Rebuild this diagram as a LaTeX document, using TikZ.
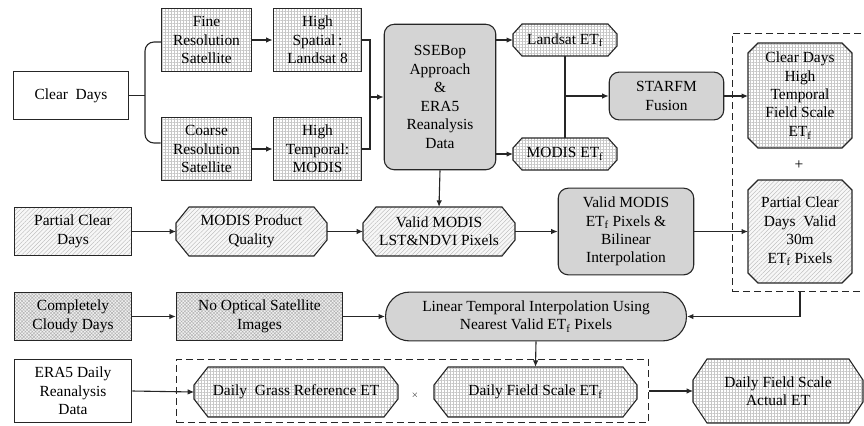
\documentclass[tikz,border=0pt]{standalone}
\usepackage{fontspec}
\setmainfont{Liberation Serif}
\usepackage{tikz}
\usetikzlibrary{arrows.meta,patterns.meta}

% octagon box: name, x, y, width, height, chamfer x, chamfer y, fill style, text
\newcommand{\octbox}[9]{%
  \path[octline,#8] ({#2-#4/2+#6},{#3-#5/2}) -- ({#2+#4/2-#6},{#3-#5/2}) -- ({#2+#4/2},{#3-#5/2+#7})
    -- ({#2+#4/2},{#3+#5/2-#7}) -- ({#2+#4/2-#6},{#3+#5/2}) -- ({#2-#4/2+#6},{#3+#5/2})
    -- ({#2-#4/2},{#3+#5/2-#7}) -- ({#2-#4/2},{#3-#5/2+#7}) -- cycle;
  \node[minimum width=#4, minimum height=#5, inner sep=0pt] (#1) at (#2,#3) {#9};}

\begin{document}
\begin{tikzpicture}[x=1bp,y=-1bp,
    >={Latex[length=6.5bp,width=5.5bp]},
    every node/.style={font=\rmfamily\fontsize{15.5}{18.5}\selectfont, align=center, inner sep=2bp},
    base/.style={draw=black!85, line width=1.1bp, minimum width=#1},
    octline/.style={draw=black!85, line width=1.1bp},
    gridfill/.style={preaction={fill=white}, pattern={Hatch[angle=0,distance=3bp,line width=0.3bp]}, pattern color=black!22},
    hatchfill/.style={preaction={fill=black!3}, pattern={Lines[angle=45,distance=3bp,line width=0.35bp]}, pattern color=black!30},
    crossfill/.style={preaction={fill=black!6}, pattern={Hatch[angle=45,distance=2.4bp,line width=0.45bp]}, pattern color=black!30},
    plainbox/.style={base=#1, rectangle},
    roundbox/.style={base=#1, rectangle, rounded corners=10bp, fill=black!17},
    dashbox/.style={draw=black!85, line width=1.1bp, dash pattern=on 7bp off 4bp, rectangle, inner sep=0pt},
    link/.style={draw=black!85, line width=1.1bp}
]
\useasboundingbox (0,0) rectangle (864,425);

% clear days branch
\node[plainbox=116, minimum height=49] (clear) at (71,95.5) {Clear\ \ Days};
\node[plainbox=91, minimum height=64, gridfill] (fine) at (206.5,40) {Fine\\Resolution\\Satellite};
\node[plainbox=89, minimum height=64, gridfill] (spatial) at (317.5,40) {High\\Spatial\,:\\Landsat 8};
\node[plainbox=91, minimum height=64, gridfill] (coarse) at (206.5,149) {Coarse\\Resolution\\Satellite};
\node[plainbox=89, minimum height=64, gridfill] (temporal) at (317.5,149) {High\\Temporal:\\MODIS};
\node[roundbox=112, minimum height=146] (ssebop) at (440,97) {SSEBop\\Approach\\\&\\ERA5\\Reanalysis\\Data};
\octbox{landsat}{565}{40}{104}{32}{9}{10}{gridfill}{Landsat ET\textsubscript{f}}
\octbox{modis}{565}{154}{104}{32}{9}{10}{gridfill}{MODIS ET\textsubscript{f}}
\node[roundbox=115, minimum height=48] (starfm) at (666.5,96) {STARFM\\Fusion};

% merged field scale products
\node[dashbox, minimum width=134, minimum height=259] (fusebox) at (799,162.5) {};
\octbox{highclear}{800}{95.5}{104}{105}{10}{10}{gridfill}{Clear Days\\High\\Temporal\\Field Scale\\ET\textsubscript{f}}
\node (plus) at (799,165) {+};
\octbox{partialvalid}{800}{231.5}{104}{103}{10}{10}{hatchfill}{Partial Clear\\Days\ \ Valid\\30m\\ET\textsubscript{f} Pixels}

% partial clear days
\node[plainbox=118, minimum height=49, hatchfill] (partial) at (73,231.5) {Partial Clear\\Days};
\octbox{quality}{251.5}{231.5}{151}{49}{13}{16}{hatchfill}{MODIS Product\\Quality}
\octbox{lst}{439}{231.5}{152}{49}{13}{16}{hatchfill}{Valid MODIS\\LST\&NDVI Pixels}
\node[roundbox=136, minimum height=87] (validet) at (626,231.5) {Valid MODIS\\ET\textsubscript{f} Pixels \&\\Bilinear\\Interpolation};

% cloudy days
\node[plainbox=118, minimum height=49, crossfill] (cloudy) at (73,316.5) {Completely\\Cloudy Days};
\node[plainbox=167, minimum height=49, crossfill] (noopt) at (259.5,316.5) {No Optical Satellite\\Images};
\node[base=302, rectangle, rounded corners=24bp, minimum height=49, fill=black!17] (linear) at (536,316.5) {Linear Temporal Interpolation Using\\Nearest Valid ET\textsubscript{f} Pixels};

% daily actual ET
\node[plainbox=118, minimum height=64] (era) at (73,391) {ERA5 Daily\\Reanalysis\\Data};
\node[dashbox, minimum width=473, minimum height=64] (dailybox) at (412.5,391) {};
\octbox{grass}{296}{392}{204}{50}{14}{18}{gridfill}{Daily\ \ Grass Reference ET}
\node[font=\fontsize{9}{10}\selectfont] (times) at (415,395) {$\times$};
\octbox{fieldet}{535.5}{392}{203}{50}{14}{18}{gridfill}{Daily Field Scale ET\textsubscript{f}}
\octbox{actual}{778}{391}{170}{64}{14}{21}{gridfill}{Daily Field Scale\\Actual ET}

% connectors
\coordinate (brace) at (145,95.5);
\coordinate (join) at (370,97);
\draw[link] (clear.east) -- (brace);
\draw[link, rounded corners=9bp] ([yshift=-2bp]fine.west) -| (brace) |- ([yshift=6bp]coarse.west);
\draw[link,->] (fine) -- (spatial);
\draw[link,->] (coarse) -- (temporal);
\draw[link] (spatial.east) -| (join) |- (temporal.east);
\draw[link,->] (join) -- (ssebop.west);
\draw[link,->] (ssebop.east |- landsat) -- (landsat.west);
\draw[link,->] (ssebop.east |- modis) -- (modis.west);
\draw[link] (landsat.south) -- (modis.north);
\draw[link,->] (landsat.south |- starfm.west) -- (starfm.west);
\draw[link,->] (starfm.east) -- (highclear.west |- starfm.east);
\draw[link,->] (ssebop.south) -- (lst.north);
\draw[link,->] (partial) -- (quality);
\draw[link,->] (quality) -- (lst);
\draw[link,->] (lst) -- (validet);
\draw[link,->] (validet) -- (partialvalid);
\draw[link,->] (cloudy) -- (noopt);
\draw[link,->] (noopt) -- (linear);
\draw[link,->] (partialvalid.south |- fusebox.south) |- (linear.east);
\draw[link,->] (linear.south) -- (fieldet.north);
\draw[link,->] (era.east) -- (grass.west);
\draw[link,->] (dailybox.east) -- (actual.west);
\end{tikzpicture}
\end{document}
